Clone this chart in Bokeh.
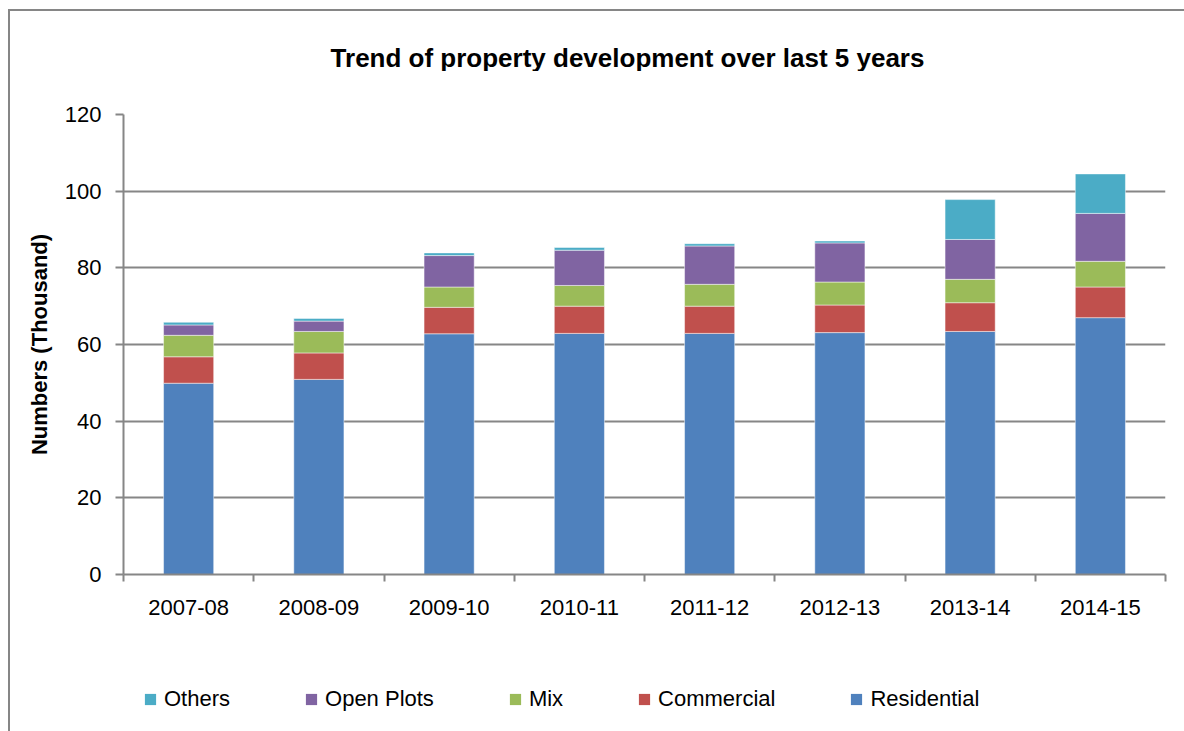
from bokeh.plotting import figure
from bokeh.layouts import column
from bokeh.models import Range1d, FixedTicker, Legend, LegendItem, Label
from bokeh.embed import file_html
from bokeh.resources import INLINE

title_text = "Trend of property development over last 5 years"
years = ["2007-08", "2008-09", "2009-10", "2010-11", "2011-12", "2012-13", "2013-14", "2014-15"]
residential = [49.9, 50.9, 62.8, 62.9, 62.9, 63.1, 63.4, 67.0]
commercial = [6.9, 6.9, 6.9, 7.1, 7.1, 7.2, 7.5, 8.0]
mix = [5.6, 5.6, 5.3, 5.4, 5.7, 6.0, 6.1, 6.7]
open_plots = [2.7, 2.7, 8.2, 9.2, 10.0, 10.2, 10.4, 12.5]
others = [0.7, 0.7, 0.7, 0.7, 0.6, 0.5, 10.4, 10.3]
y_ticks = [0, 20, 40, 60, 80, 100, 120]

series = ["Residential", "Commercial", "Mix", "Open Plots", "Others"]
colors = ["#4F81BD", "#C0504D", "#9BBB59", "#8064A2", "#4BACC6"]

FONT = "Liberation Sans"
GRAY = "#868686"

xc = [i + 0.5 for i in range(len(years))]
data = {"x": xc, "Residential": residential, "Commercial": commercial, "Mix": mix,
        "Open Plots": open_plots, "Others": others}


def strip(h):
    f = figure(width=1174, height=h, output_backend="svg", toolbar_location=None,
               x_range=Range1d(0, 1), y_range=Range1d(0, 1),
               x_axis_location=None, y_axis_location=None,
               min_border_left=0, min_border_right=0, min_border_top=0, min_border_bottom=0)
    f.grid.visible = False
    f.outline_line_color = None
    return f


# title strip
t = strip(60)
t.add_layout(Label(x=504, y=14, x_units="screen", y_units="screen", text=title_text,
                   text_align="center", text_baseline="middle", text_font=FONT,
                   text_font_size="26px", text_font_style="bold", text_color="black"))

p = figure(width=1174, height=569, output_backend="svg", toolbar_location=None,
           x_range=Range1d(0, len(years)), y_range=Range1d(0, 120),
           min_border_left=113, min_border_right=19, min_border_top=43, min_border_bottom=66)

rs = p.vbar_stack(series, x="x", width=0.385, color=colors, source=data,
                  line_color="white", line_width=0.8, line_alpha=0.6)

p.outline_line_color = None
p.xgrid.grid_line_color = None
p.ygrid.grid_line_color = GRAY
p.ygrid.grid_line_width = 2

p.yaxis.ticker = FixedTicker(ticks=y_ticks)
p.yaxis.axis_line_color = GRAY
p.yaxis.axis_line_width = 2
p.yaxis.major_tick_line_color = GRAY
p.yaxis.major_tick_line_width = 2
p.yaxis.major_tick_out = 8
p.yaxis.major_tick_in = 0
p.yaxis.minor_tick_line_color = None
p.yaxis.major_label_text_font = FONT
p.yaxis.major_label_text_font_size = "22px"
p.yaxis.major_label_text_color = "black"
p.yaxis.major_label_standoff = 14
p.yaxis.axis_label = "Numbers (Thousand)"
p.yaxis.axis_label_text_font = FONT
p.yaxis.axis_label_text_font_size = "22px"
p.yaxis.axis_label_text_font_style = "bold"
p.yaxis.axis_label_text_color = "black"
p.yaxis.axis_label_standoff = 10

p.xaxis.ticker = FixedTicker(ticks=xc, minor_ticks=list(range(len(years) + 1)))
p.xaxis.major_label_overrides = {x: y for x, y in zip(xc, years)}
p.xaxis.axis_line_color = GRAY
p.xaxis.axis_line_width = 2
p.xaxis.major_tick_line_color = None
p.xaxis.major_tick_out = 0
p.xaxis.major_tick_in = 0
p.xaxis.minor_tick_line_color = GRAY
p.xaxis.minor_tick_line_width = 2
p.xaxis.minor_tick_out = 7
p.xaxis.minor_tick_in = 0
p.xaxis.major_label_text_font = FONT
p.xaxis.major_label_text_font_size = "22px"
p.xaxis.major_label_text_color = "black"
p.xaxis.major_label_standoff = 18

# legend strip (its frame is aligned with the main plot's frame by the column layout)
q = strip(91)
dummies = [q.vbar(x=[-1], top=[0], width=0.1, fill_color=c, line_color=None) for c in colors]

items = [LegendItem(label=series[i], renderers=[dummies[i]]) for i in reversed(range(len(series)))]
legend = Legend(items=items, orientation="horizontal", location=(20, 19),
                glyph_width=14, glyph_height=14, label_standoff=7, spacing=74,
                padding=0, margin=0, border_line_color=None, background_fill_alpha=0,
                label_text_font=FONT, label_text_font_size="22px", label_height=14,
                label_text_color="black")
q.add_layout(legend, "center")

layout = column(t, p, q, spacing=0)
layout.styles = {"border-left": "2px solid #868686", "border-top": "2px solid #868686",
                 "margin-left": "8px", "margin-top": "9px"}

open("out.html", "w").write(file_html(layout, INLINE))
